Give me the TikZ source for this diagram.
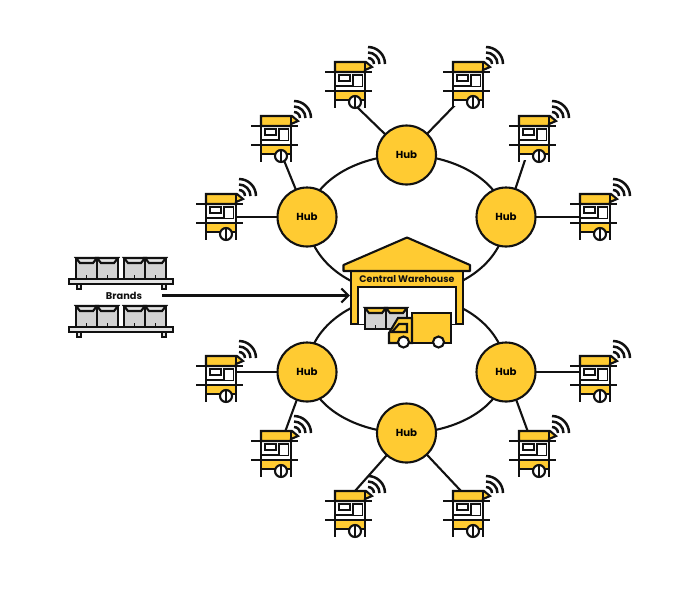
\documentclass[tikz,border=0pt]{standalone}
\usepackage{fontspec}
\setmainfont{Poppins}
\usetikzlibrary{arrows.meta,backgrounds}
\definecolor{hubyellow}{HTML}{FFCB32}
\definecolor{linedark}{HTML}{111111}
\definecolor{boxgray}{HTML}{D2D2D2}
\definecolor{shelfgray}{HTML}{E4E4E4}
\tikzset{
  lineall/.style={draw=linedark,line width=2.1pt},
  linethin/.style={draw=linedark,line width=1.4pt},
  hubnode/.style={circle,lineall,fill=hubyellow,minimum size=59pt,inner sep=0pt,font=\fontsize{10.2}{12}\selectfont\bfseries},
  namelabel/.style={inner sep=0pt,text=linedark,font=\fontsize{9.5}{11}\selectfont\bfseries},
  % market stall, origin on the wheel
  stall/.pic={
    \fill[white] (-20,-4) rectangle (10,39);
    \filldraw[lineall,fill=hubyellow] (-20,40) -- (11,40) -- (17,35) -- (10,32) -- (10,30) -- (-20,30) -- cycle;
    \filldraw[lineall,fill=hubyellow] (-20,11) rectangle (10,2);
    \draw[lineall] (-20,40) -- (-20,-6);
    \draw[lineall] (10,40) -- (10,-6);
    \draw[lineall] (-30,30) -- (17,30);
    \draw[lineall] (-30,11) -- (17,11);
    \draw[linethin] (-20,16) -- (8,16);
    \draw[linethin,fill=white] (-16,27) rectangle (-5,21);
    \draw[linethin,fill=white] (-2,16) -- (-2,27) -- (7.5,27) -- (7.5,16);
    \filldraw[lineall,fill=white] (0,0) circle (6);
    \draw[lineall] (0,6) -- (0,-6);
    \draw[lineall,line width=2.5pt] (19,38) arc[start angle=0,end angle=90,radius=6];
    \draw[lineall,line width=2.5pt] (24.5,38) arc[start angle=0,end angle=90,radius=11.5];
    \draw[lineall,line width=2.5pt] (30,38) arc[start angle=0,end angle=90,radius=17];
  },
  crate/.pic={
    \filldraw[lineall,fill=boxgray] (0,0) rectangle (21,21);
    \filldraw[lineall,fill=#1] (0,21) -- (21,21) -- (17,16) -- (4,16) -- cycle;
    \draw[linethin] (10.5,0) -- (10.5,4);
  },
  shelf/.pic={
    \draw[lineall,fill=shelfgray] (8,-5) rectangle (12,0);
    \draw[lineall,fill=shelfgray] (93,-5) rectangle (97,0);
    \filldraw[lineall,fill=shelfgray] (0,0) rectangle (104,5);
    \foreach \bx in {7,28,55,76} { \pic at (\bx,5) {crate=shelfgray}; }
  }
}
\begin{document}
\begin{tikzpicture}[x=1pt,y=1pt,>={Straight Barb[length=7pt,width=14pt]}]
\useasboundingbox (0,0) rectangle (700,-590);

\node[hubnode] (hubA) at (307,-217) {Hub};
\node[hubnode] (hubB) at (406.5,-155) {Hub};
\node[hubnode] (hubC) at (506,-217) {Hub};
\node[hubnode] (hubD) at (307,-372) {Hub};
\node[hubnode] (hubE) at (406.5,-433) {Hub};
\node[hubnode] (hubF) at (506,-372) {Hub};

% where the stalls stand and where their lines end
\foreach \nm/\px/\py/\lx/\ly in {s1/226/-234/236/-217,s2/281/-156/283/-158,s3/355/-102/356/-106,
  s4/473/-102/456/-104,s5/539/-156/527/-154,s6/600/-234/585/-217,
  s7/226/-396/236/-372,s8/281/-471/285/-432,s9/355/-531/355/-491,
  s10/473/-531/461/-491,s11/539/-471/528/-432,s12/600/-396/585/-372}{
  \coordinate (\nm) at (\px,\py);
  \coordinate (l\nm) at (\lx,\ly);
}

\begin{scope}[on background layer]
% the two rings
\draw[lineall] (hubA.center) .. controls (314,-178) and (362,-155) .. (hubB.center)
  .. controls (451,-155) and (499,-178) .. (hubC.center);
\draw[lineall] (hubA.center) arc[start angle=180,end angle=360,x radius=99.5,y radius=77];
\draw[lineall] (hubD.center) .. controls (314,-411) and (362,-433) .. (hubE.center)
  .. controls (451,-433) and (499,-411) .. (hubF.center);
\draw[lineall] (hubD.center) arc[start angle=180,end angle=0,x radius=99.5,y radius=77];
% hub to stall
\foreach \hb/\st in {hubA/s1,hubA/s2,hubB/s3,hubB/s4,hubC/s5,hubC/s6,hubD/s7,hubD/s8,hubE/s9,hubE/s10,hubF/s11,hubF/s12}{
  \draw[lineall] (\hb.center) -- (l\st);
}
\end{scope}

\foreach \st in {s1,s2,s3,s4,s5,s6,s7,s8,s9,s10,s11,s12}{
  \pic at (\st) {stall};
}

% brands
\pic at (69,-284) {shelf};
\pic at (69,-332) {shelf};
\node[namelabel,font=\fontsize{9.8}{11}\selectfont\bfseries,minimum width=76pt] (brands) at (124,-295.5) {Brands};

% warehouse
\node[lineall,fill=hubyellow,minimum width=112pt,minimum height=53pt,inner sep=0pt] (warehouse) at (407,-297.5) {};
\filldraw[lineall,fill=hubyellow,line join=round] (407,-237.5) -- (470,-265) -- (470,-271) -- (343.5,-271) -- (343.5,-265) -- cycle;
\filldraw[lineall,fill=white] (358,-324) -- (358,-287) -- (456,-287) -- (456,-324);
\node[namelabel] (whlabel) at (407,-279) {Central Warehouse};
\draw[lineall,->] (brands.east) -- (brands.east -| warehouse.west);

% goods and truck in the door
\pic at (365,-329) {crate=hubyellow};
\pic at (386,-329) {crate=hubyellow};
\filldraw[lineall,fill=hubyellow] (412,-313) rectangle (451,-343);
\filldraw[lineall,fill=hubyellow] (389,-343) -- (389,-333) -- (398,-318) -- (412,-318) -- (412,-343) -- cycle;
\filldraw[lineall,fill=hubyellow] (392,-332) -- (399,-324) -- (407,-324) -- (407,-332) -- cycle;
\filldraw[lineall,fill=white] (403.5,-342) circle (5.5);
\filldraw[lineall,fill=white] (438.5,-342) circle (5.5);
\end{tikzpicture}
\end{document}
